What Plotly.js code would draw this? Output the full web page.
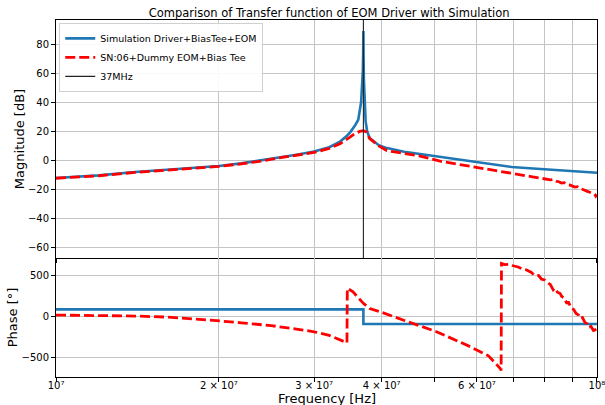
<!DOCTYPE html>
<html>
<head>
<meta charset="utf-8">
<script src="https://cdn.plot.ly/plotly-3.0.1.min.js"></script>
<style>html,body{margin:0;padding:0;background:#fff;}#chart{width:605px;height:405px;}</style>
</head>
<body>
<div id="chart"></div>
<script>
// Simulation magnitude (Hz, dB)
const simMagFreq = [10e6, 12e6, 14e6, 16e6, 17e6, 18e6, 20e6, 22e6, 24e6, 26e6, 28e6, 30e6, 32e6, 33.5e6, 34.5e6, 35e6, 35.7e6, 36.2e6, 36.64e6, 36.82e6, 36.92e6, 36.97e6, 37.0e6, 37.03e6, 37.08e6, 37.18e6, 37.35e6, 37.6e6, 38e6, 39.5e6, 40.9e6, 44e6, 47.1e6, 51.3e6, 55e6, 60e6, 65e6, 69.6e6, 75e6, 80e6, 90e6, 100e6];
const simMagDb   = [-12, -10.2, -7.9, -6.5, -5.7, -5.2, -3.8, -2.0, 0, 2.2, 4.1, 6.1, 9.1, 13, 17, 19.5, 24, 28, 40, 50, 62, 75, 89, 72, 55, 38, 27, 20, 15.5, 10.5, 8.5, 6.0, 4.4, 2.2, 0.6, -1.1, -3, -4.5, -5.3, -6.1, -7.5, -8.4];

// Measured magnitude SN:06 (Hz, dB)
const measMagFreq = [10e6, 12e6, 14e6, 16e6, 18e6, 20e6, 22e6, 24e6, 26e6, 28e6, 30e6, 32e6, 33.5e6, 34.95e6, 35.7e6, 36.45e6, 37e6, 37.5e6, 38e6, 39.5e6, 40.9e6, 44e6, 47.1e6, 51.3e6, 55e6, 60e6, 65e6, 69.6e6, 72e6, 74e6, 76e6, 78e6, 80e6, 82e6, 83e6, 84e6, 85e6, 86e6, 87e6, 88e6, 89e6, 90e6, 91e6, 92e6, 93e6, 94e6, 95e6, 96e6, 97e6, 98e6, 99e6, 99.5e6, 100e6];
const measMagDb   = [-12.2, -10.5, -8.2, -6.8, -5.5, -4.1, -2.3, -0.4, 1.9, 3.7, 5.5, 8.3, 11.4, 16, 18.5, 20, 20.5, 19.5, 15, 10, 6.8, 4.8, 3.0, -0.5, -2.5, -4.5, -7, -9, -9.8, -10.5, -11.2, -11.8, -12.5, -13.3, -13.0, -14.2, -14.6, -15.5, -15.2, -16.5, -16.8, -17.5, -18.3, -18.0, -19.5, -19.8, -20.8, -21.2, -21.8, -22.7, -23.2, -24.5, -23.4];

// Simulation phase (Hz, deg)
const simPhFreq = [10e6, 37e6, 37e6, 100e6];
const simPhDeg  = [90, 90, -90, -90];

// Measured phase (Hz, deg)
const measPhFreq = [10e6, 12e6, 14e6, 16e6, 18e6, 19.8e6, 22e6, 25e6, 28e6, 30e6, 32e6, 34.2e6, 34.5e6, 34.55e6, 35.4e6, 36e6, 37e6, 38e6, 39.7e6, 43.8e6, 50.5e6, 58.3e6, 63e6, 66.2e6, 66.5e6, 66.6e6, 67.5e6, 69e6, 70e6, 71.5e6, 73e6, 74e6, 75.5e6, 77e6, 78e6, 79e6, 80e6, 81e6, 82e6, 83e6, 83.5e6, 84.5e6, 85.5e6, 86e6, 87e6, 88e6, 88.5e6, 89.5e6, 90.5e6, 91.5e6, 92.5e6, 93e6, 94e6, 95e6, 96e6, 96.5e6, 97.5e6, 98.5e6, 99.2e6, 100e6];
const measPhDeg  = [20, 15, 8, -5, -25, -49, -75, -110, -155, -185, -230, -306, -320, 348, 306, 250, 164, 100, 61, -40, -184, -368, -480, -632, -660, 654, 640, 644, 625, 610, 580, 575, 545, 500, 505, 460, 450, 420, 395, 330, 350, 300, 285, 250, 230, 160, 185, 110, 90, 40, 20, -20, -10, -70, -90, -130, -120, -170, -160, -200];

// 37 MHz marker
const markerFreq = [37e6, 37e6];
const markerMag  = [-67, 96.5];

// x tick labels
const xTickVals = [10e6, 20e6, 30e6, 40e6, 50e6, 60e6, 70e6, 80e6, 90e6, 100e6];
const xTickText = ['10⁷', '2 × 10⁷', '3 × 10⁷', '4 × 10⁷', '', '6 × 10⁷', '', '', '', '10⁸'];

const blue = '#1f77b4';
const red = '#ff0000';
const gridc = '#c4c4c4';

const traces = [
  {x: simMagFreq, y: simMagDb, xaxis: 'x', yaxis: 'y', mode: 'lines', name: 'Simulation Driver+BiasTee+EOM', line: {color: blue, width: 2.6}},
  {x: measMagFreq, y: measMagDb, xaxis: 'x', yaxis: 'y', mode: 'lines', name: 'SN:06+Dummy EOM+Bias Tee', line: {color: red, width: 2.8, dash: '10px,4px'}},
  {x: markerFreq, y: markerMag, xaxis: 'x', yaxis: 'y', mode: 'lines', name: '37MHz', line: {color: '#222', width: 1.1}},
  {x: simPhFreq, y: simPhDeg, xaxis: 'x2', yaxis: 'y2', mode: 'lines', showlegend: false, line: {color: blue, width: 2.6}},
  {x: measPhFreq, y: measPhDeg, xaxis: 'x2', yaxis: 'y2', mode: 'lines', showlegend: false, line: {color: red, width: 2.8, dash: '10px,4px'}}
];

const axisCommon = {
  showline: true, mirror: true, linecolor: '#000', linewidth: 1,
  ticks: 'outside', ticklen: 4, tickcolor: '#000', tickwidth: 1,
  showgrid: true, gridcolor: gridc, gridwidth: 1, zeroline: false,
  tickfont: {size: 10, color: '#000'}
};

const xRange = [6.99995, 8.00005];

const layout = {
  width: 605, height: 405,
  margin: {l: 56, r: 8, t: 20, b: 28},
  paper_bgcolor: '#fff', plot_bgcolor: '#fff',
  font: {family: 'DejaVu Sans', color: '#000'},
  title: {text: 'Comparison of Transfer function of EOM Driver with Simulation', font: {size: 11.5, color: '#000'}, x: 0.544, xanchor: 'center', y: 0.977, yanchor: 'top'},
  showlegend: true,
  legend: {x: 0.006, y: 0.992, xanchor: 'left', yanchor: 'top', bgcolor: 'rgba(255,255,255,0.9)', bordercolor: '#d0d0d0', borderwidth: 1, font: {size: 9.5, color: '#000'}, tracegroupgap: 0, itemwidth: 30},
  xaxis: Object.assign({}, axisCommon, {type: 'log', range: xRange, domain: [0, 1], anchor: 'y', matches: 'x2', tickvals: xTickVals, ticktext: xTickText, showticklabels: false}),
  yaxis: Object.assign({}, axisCommon, {range: [-67, 96.5], domain: [0.3333, 1], anchor: 'x', tickvals: [-60, -40, -20, 0, 20, 40, 60, 80], title: {text: 'Magnitude [dB]', font: {size: 13}, standoff: 0}}),
  xaxis2: Object.assign({}, axisCommon, {type: 'log', range: xRange, domain: [0, 1], anchor: 'y2', mirror: false, tickvals: xTickVals, ticktext: xTickText, tickfont: {size: 10, color: '#000'}, ticklabeloverflow: 'allow', ticklabelstandoff: -5}),
  yaxis2: Object.assign({}, axisCommon, {range: [-740, 720], domain: [0, 0.3333], anchor: 'x2', tickvals: [-500, 0, 500], title: {text: 'Phase [°]', font: {size: 13}, standoff: 0}}),
  annotations: [
    {text: 'Frequency [Hz]', xref: 'paper', yref: 'paper', x: 0.5, y: -0.061, xanchor: 'center', yanchor: 'middle', showarrow: false, font: {size: 13, color: '#000'}}
  ]
};

Plotly.newPlot('chart', traces, layout, {displayModeBar: false, staticPlot: true});
</script>
</body>
</html>
